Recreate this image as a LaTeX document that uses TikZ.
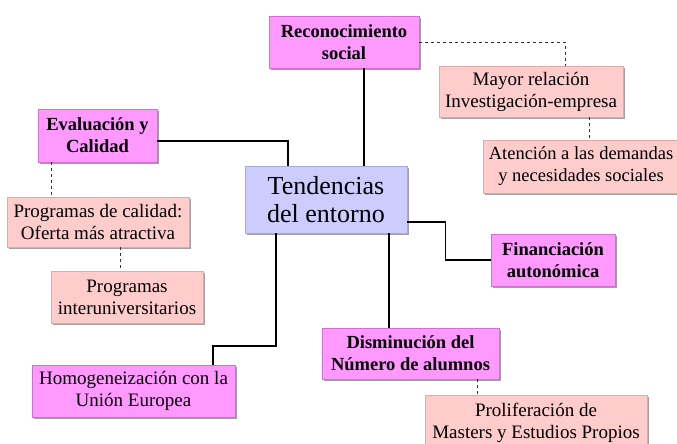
\documentclass[tikz,border=0pt]{standalone}
\usepackage{fontspec}
\setmainfont{Liberation Serif}
\usetikzlibrary{shadows}
\definecolor{magbox}{HTML}{FF99FF}
\definecolor{magline}{HTML}{D070D0}
\definecolor{pinkbox}{HTML}{FFCCCC}
\definecolor{pinkline}{HTML}{E0A8A8}
\definecolor{lavbox}{HTML}{CCCCFF}
\definecolor{lavline}{HTML}{A8A8E0}
\definecolor{shad}{HTML}{A0A0A0}
\tikzset{
  basebox/.style={inner sep=0pt, align=center, line width=0.6pt,
    drop shadow={shadow xshift=2pt, shadow yshift=-2pt, fill=shad, opacity=1},
    font=\fontsize{19}{22}\selectfont},
  magentabox/.style={basebox, fill=magbox, draw=magline, font=\fontsize{18.5}{22}\selectfont\bfseries},
  magentaplain/.style={basebox, fill=magbox, draw=magline},
  pinkb/.style={basebox, fill=pinkbox, draw=pinkline},
  centralbox/.style={basebox, fill=lavbox, draw=lavline, font=\fontsize{26}{28}\selectfont},
  mainlink/.style={line width=1.6pt, black},
  sublink/.style={line width=0.8pt, black!80, dash pattern=on 3pt off 3pt},
}
\begin{document}
\begin{tikzpicture}[x=1pt, y=-1pt]
\useasboundingbox (0,0) rectangle (677,444);
\node[magentabox, minimum width=150pt, minimum height=52pt] (reco) at (344,42) {Reconocimiento\\social};
\node[magentabox, minimum width=119pt, minimum height=53pt] (eval) at (97.5,135.5) {Evaluación y\\Calidad};
\node[centralbox, minimum width=162pt, minimum height=67pt] (tend) at (326,199.5) {Tendencias\\del entorno};
\node[pinkb, minimum width=182pt, minimum height=50pt] (prog) at (98,222) {Programas de calidad:\\Oferta más atractiva};
\node[pinkb, minimum width=152pt, minimum height=52pt] (inter) at (127,297) {Programas\\interuniversitarios};
\node[magentaplain, minimum width=203pt, minimum height=52pt] (homo) at (133.5,391) {Homogeneización con la\\Unión Europea};
\node[pinkb, minimum width=184pt, minimum height=51pt] (mayor) at (531,91.5) {Mayor relación\\Investigación-empresa};
\node[pinkb, minimum width=196pt, minimum height=53pt, font=\fontsize{18.5}{22}\selectfont] (aten) at (581,166.5) {Atención a las demandas\\y necesidades sociales};
\node[magentabox, minimum width=124pt, minimum height=52pt] (fin) at (553,260) {Financiación\\autonómica};
\node[magentabox, minimum width=177pt, minimum height=51pt] (dism) at (410.5,353.5) {Disminución del\\Número de alumnos};
\node[pinkb, minimum width=222pt, minimum height=55pt] (prol) at (536,422.5) {Proliferación de\\Masters y Estudios Propios};

\draw[mainlink] ([yshift=-5.5pt]eval.east) -| ([xshift=-38pt]tend.north);
\draw[mainlink] ([xshift=20pt]reco.south) -- ([xshift=38pt]tend.north);
\draw[mainlink] ([yshift=-22.5pt]tend.east) -- ++(38pt,0) |- (fin.west);
\draw[mainlink] ([xshift=63pt]tend.south) -- ([xshift=-21.5pt]dism.north);
\draw[mainlink] ([xshift=-50pt]tend.south) |- ([xshift=79.5pt,yshift=19pt]homo.north) -- ([xshift=79.5pt]homo.north);

\draw[sublink] (reco.east) -| ([xshift=34pt]mayor.north);
\draw[sublink] ([xshift=58pt]mayor.south) -- ([xshift=8pt]aten.north);
\draw[sublink] ([xshift=-46.5pt]eval.south) -- ([xshift=-47pt]prog.north);
\draw[sublink] ([xshift=22pt]prog.south) -- ([xshift=-7pt]inter.north);
\draw[sublink] ([xshift=66.5pt]dism.south) -- ([xshift=-59pt]prol.north);
\end{tikzpicture}
\end{document}
